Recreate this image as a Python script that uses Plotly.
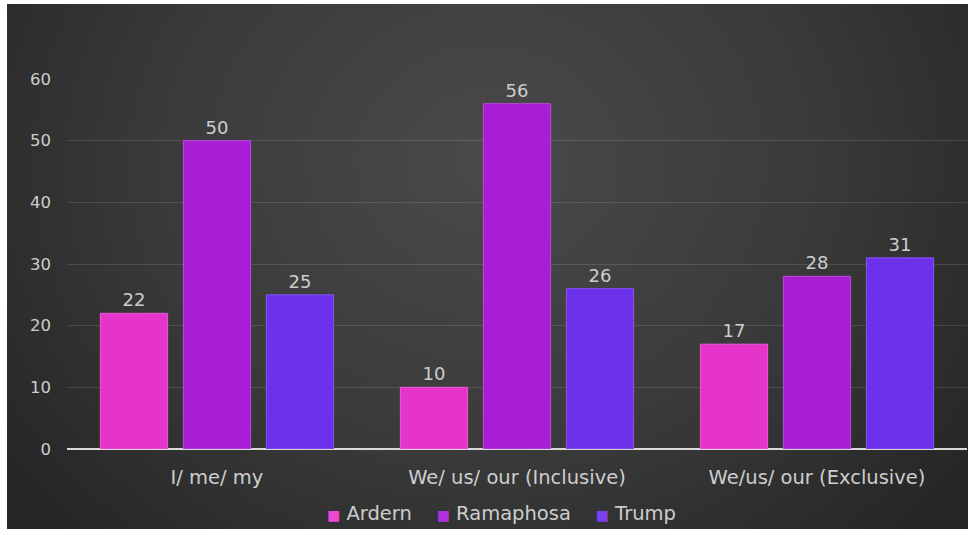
import base64
import plotly.graph_objects as go

# Pronoun usage counts per speaker
categories = ["I/ me/ my", "We/ us/ our (Inclusive)", "We/us/ our (Exclusive)"]
speakers = ["Ardern", "Ramaphosa", "Trump"]
ardern = [22, 10, 17]
ramaphosa = [50, 56, 28]
trump = [25, 26, 31]
y_ticks = [0, 10, 20, 30, 40, 50, 60]

series = [ardern, ramaphosa, trump]
fills = ["#e633c9", "#a91ed4", "#6d31ea"]
edges = ["#ee5ad8", "#b94ae0", "#8456f0"]
swatches = ["#ec48d4", "#b030dc", "#7a40ee"]

FONT = "'DejaVu Sans', Verdana, sans-serif"
TEXT = "#cdcdcd"

W, H = 975, 535
ML, MR, MT, MB = 67, 8, 79, 86
pw, ph = W - ML - MR, H - MT - MB

# dark radial backdrop of the chart card
svg = (
    '<svg xmlns="http://www.w3.org/2000/svg" width="960" height="525" '
    'preserveAspectRatio="none" viewBox="0 0 960 525">'
    '<defs><radialGradient id="g" cx="0.5" cy="0.3" r="0.62" '
    'gradientTransform="translate(0.5 0.3) scale(1 1.6) translate(-0.5 -0.3)">'
    '<stop offset="0" stop-color="#4a4a4a"/>'
    '<stop offset="0.55" stop-color="#3a3a3a"/>'
    '<stop offset="1" stop-color="#262626"/>'
    '</radialGradient></defs>'
    '<rect width="960" height="525" fill="url(#g)"/></svg>'
)
bg_src = "data:image/svg+xml;base64," + base64.b64encode(svg.encode()).decode()

card_l, card_r, card_t, card_b = 7, 968, 4, 529

fig = go.Figure()
for name, vals, fc, ec in zip(speakers, series, fills, edges):
    fig.add_trace(go.Bar(
        name=name,
        x=categories,
        y=vals,
        marker=dict(color=fc, line=dict(color=ec, width=1)),
        text=[str(v) for v in vals],
        textposition="outside",
        textfont=dict(family=FONT, size=18, color=TEXT),
        cliponaxis=False,
        showlegend=False,
    ))

# legend row: coloured square followed by the speaker name
legend_html = "    ".join(
    f'<span style="color:{c};font-size:14px">■</span> {n}'
    for n, c in zip(speakers, swatches)
)

fig.update_layout(
    width=W, height=H,
    margin=dict(l=ML, r=MR, t=MT, b=MB, autoexpand=False),
    paper_bgcolor="white",
    plot_bgcolor="rgba(0,0,0,0)",
    barmode="group",
    bargap=0.17,
    bargroupgap=0.19,
    font=dict(family=FONT, color=TEXT),
    annotations=[dict(
        text=legend_html,
        xref="paper", yref="paper",
        x=(501 - ML) / pw, xanchor="center",
        y=-(513 - (H - MB)) / ph, yanchor="middle",
        showarrow=False,
        font=dict(family=FONT, size=19.5, color=TEXT),
    )],
    images=[dict(
        source=bg_src,
        xref="paper", yref="paper",
        x=(card_l - ML) / pw,
        y=((H - MB) - card_t) / ph,
        sizex=(card_r - card_l) / pw,
        sizey=(card_b - card_t) / ph,
        xanchor="left", yanchor="top",
        sizing="stretch",
        layer="below",
    )],
    xaxis=dict(
        showgrid=False,
        showline=False,
        ticks="",
        automargin=False,
        tickfont=dict(family=FONT, size=19.5, color=TEXT),
        ticklabelstandoff=14,
    ),
    yaxis=dict(
        range=[0, 60],
        tickvals=y_ticks,
        showgrid=True,
        gridcolor="rgba(255,255,255,0.12)",
        gridwidth=1,
        zeroline=True,
        zerolinecolor="#d9d9d9",
        zerolinewidth=1.5,
        showline=False,
        ticks="",
        automargin=False,
        tickfont=dict(family=FONT, size=16.5, color=TEXT),
        ticklabelstandoff=15,
    ),
)

fig.write_html("out.html")
